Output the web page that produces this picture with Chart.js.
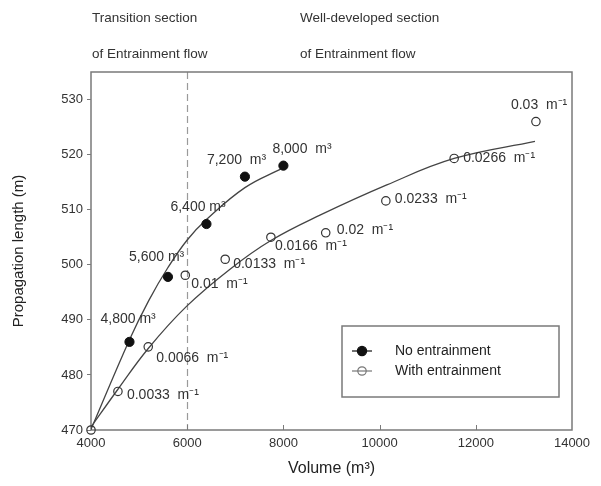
<!DOCTYPE html>
<html>
<head>
<meta charset="utf-8">
<script src="https://cdn.jsdelivr.net/npm/chart.js@4.4.1/dist/chart.umd.min.js"></script>
<style>
    html, body { margin: 0; padding: 0; background: #fff; }
    #wrap { width: 601px; height: 486px; }
</style>
</head>
<body>
<div id="wrap"><canvas id="chart" width="601" height="486"></canvas></div>
<script>
// Measured points, no entrainment
var noEntrainVolume = [4800, 5600, 6400, 7200, 8000];
var noEntrainLength = [486.0, 497.8, 507.4, 516.0, 518.0];
var noEntrainLabels = ['4,800 m³', '5,600 m³', '6,400 m³', '7,200  m³', '8,000  m³'];

// Measured points, with entrainment
var withEntrainVolume = [4000, 4560, 5190, 5960, 6790, 7740, 8880, 10130, 11550, 13250];
var withEntrainLength = [470.0, 477.0, 485.1, 498.1, 501.0, 505.0, 505.8, 511.6, 519.3, 526.0];
var withEntrainLabels = ['', '0.0033  m⁻¹', '0.0066  m⁻¹', '0.01  m⁻¹', '0.0133  m⁻¹',
    '0.0166  m⁻¹', '0.02  m⁻¹', '0.0233  m⁻¹', '0.0266  m⁻¹', '0.03  m⁻¹'];

// Fitted trend lines
var noEntrainFitVolume = [3980, 4800, 5200, 5600, 6000, 6400, 7200, 7970];
var noEntrainFitLength = [469.7, 486.4, 493.5, 499.5, 504.5, 508.2, 514.0, 517.5];
var withEntrainFitVolume = [3980, 4560, 5190, 5980, 6890, 7740, 8760, 10150, 11550, 13230];
var withEntrainFitLength = [470.3, 477.4, 484.8, 492.4, 499.2, 504.4, 509.0, 514.5, 519.3, 522.4];

// Axes
var xTicks = [4000, 6000, 8000, 10000, 12000, 14000];
var yTicks = [470, 480, 490, 500, 510, 520, 530];
var sectionBoundary = 6000;
var sectionTitles = [
    ['Transition section', 'of Entrainment flow'],
    ['Well-developed section', 'of Entrainment flow']
];

// Label placement relative to each point (px): [dx, dy]
var noEntrainLabelOffsets = [[-29, -23], [-39, -20], [-36, -17], [-38, -17], [-11, -16]];
var withEntrainLabelOffsets = [[0, 0], [9, 4], [8, 11], [6, 9], [8, 5], [4, 9], [11, -3], [9, -2], [9, 0], [-25, -16]];

function toPoints(xs, ys) {
    return xs.map(function(x, i) { return { x: x, y: ys[i] }; });
}

var AXIS_COLOR = '#7a7a7a';
var TEXT_COLOR = '#333';

/**
 * Frame, inward x ticks, section divider and header text
 */
var framePlugin = {
    id: 'frame',
    beforeDatasetsDraw: function(chart) {
        var ctx = chart.ctx;
        var area = chart.chartArea;
        var xScale = chart.scales.x;

        ctx.save();

        // dashed boundary between sections
        var bx = Math.round(xScale.getPixelForValue(sectionBoundary)) + 0.5;
        ctx.strokeStyle = '#9a9a9a';
        ctx.lineWidth = 1.2;
        ctx.setLineDash([7, 4]);
        ctx.beginPath();
        ctx.moveTo(bx, area.top);
        ctx.lineTo(bx, area.bottom);
        ctx.stroke();
        ctx.setLineDash([]);

        // plot frame
        ctx.strokeStyle = AXIS_COLOR;
        ctx.lineWidth = 1.5;
        ctx.strokeRect(area.left, area.top, area.right - area.left, area.bottom - area.top);

        // x ticks point into the plot
        ctx.lineWidth = 1;
        xTicks.slice(1, -1).forEach(function(v) {
            var px = Math.round(xScale.getPixelForValue(v)) + 0.5;
            ctx.beginPath();
            ctx.moveTo(px, area.bottom);
            ctx.lineTo(px, area.bottom - 5);
            ctx.stroke();
        });
        ctx.restore();
    },
    afterDraw: function(chart) {
        var ctx = chart.ctx;

        // section headers above the plot
        ctx.save();
        ctx.fillStyle = TEXT_COLOR;
        ctx.font = '13.5px "Liberation Sans", Arial, sans-serif';
        ctx.textAlign = 'left';
        ctx.textBaseline = 'middle';
        var headerX = [92, 300];
        sectionTitles.forEach(function(lines, i) {
            ctx.fillText(lines[0], headerX[i], 18);
            ctx.fillText(lines[1], headerX[i], 54);
        });
        ctx.restore();
    }
};

/**
 * Text next to the measured points
 */
var pointLabelPlugin = {
    id: 'pointLabels',
    afterDatasetsDraw: function(chart) {
        var ctx = chart.ctx;
        ctx.save();
        ctx.fillStyle = TEXT_COLOR;
        ctx.font = '14px "Liberation Sans", Arial, sans-serif';
        ctx.textAlign = 'left';
        ctx.textBaseline = 'middle';
        chart.data.datasets.forEach(function(ds, di) {
            if (!ds.pointLabels) {
                return;
            }
            var meta = chart.getDatasetMeta(di);
            meta.data.forEach(function(el, i) {
                var text = ds.pointLabels[i];
                if (!text) {
                    return;
                }
                var off = ds.labelOffsets[i];
                ctx.fillText(text, el.x + off[0], el.y + off[1]);
            });
        });
        ctx.restore();
    }
};

/**
 * Boxed legend inside the plot
 */
var boxLegendPlugin = {
    id: 'boxLegend',
    afterDraw: function(chart) {
        var ctx = chart.ctx;
        var box = { x: 342, y: 326, w: 217, h: 71 };
        var entries = chart.data.datasets.filter(function(ds) { return ds.inLegend; });

        ctx.save();
        ctx.fillStyle = '#fff';
        ctx.fillRect(box.x, box.y, box.w, box.h);
        ctx.strokeStyle = AXIS_COLOR;
        ctx.lineWidth = 1.5;
        ctx.strokeRect(box.x, box.y, box.w, box.h);

        entries.forEach(function(ds, i) {
            var cy = box.y + 25 + i * 20;
            var cx = box.x + 20;
            ctx.strokeStyle = ds.legendLineColor;
            ctx.lineWidth = 1.2;
            ctx.beginPath();
            ctx.moveTo(cx - 10, cy);
            ctx.lineTo(cx + 10, cy);
            ctx.stroke();

            ctx.beginPath();
            ctx.arc(cx, cy, ds.pointRadius, 0, Math.PI * 2);
            if (ds.backgroundColor !== 'transparent') {
                ctx.fillStyle = ds.backgroundColor;
                ctx.fill();
            }
            ctx.strokeStyle = ds.legendLineColor;
            ctx.stroke();

            ctx.fillStyle = '#222';
            ctx.font = '14px "Liberation Sans", Arial, sans-serif';
            ctx.textAlign = 'left';
            ctx.textBaseline = 'middle';
            ctx.fillText(ds.label, box.x + 53, cy);
        });
        ctx.restore();
    }
};

var fitLineStyle = {
    type: 'line',
    borderColor: '#444',
    borderWidth: 1.3,
    pointRadius: 0,
    fill: false,
    tension: 0.4,
    order: 2
};

new Chart(document.getElementById('chart'), {
    type: 'scatter',
    data: {
        datasets: [
            Object.assign({ label: 'No entrainment fit', data: toPoints(noEntrainFitVolume, noEntrainFitLength) }, fitLineStyle),
            Object.assign({ label: 'With entrainment fit', data: toPoints(withEntrainFitVolume, withEntrainFitLength) }, fitLineStyle),
            {
                label: 'No entrainment',
                data: toPoints(noEntrainVolume, noEntrainLength),
                pointRadius: 4.6,
                backgroundColor: '#111',
                borderColor: '#111',
                borderWidth: 1,
                pointLabels: noEntrainLabels,
                labelOffsets: noEntrainLabelOffsets,
                inLegend: true,
                legendLineColor: '#111',
                clip: false,
                order: 0
            },
            {
                label: 'With entrainment',
                data: toPoints(withEntrainVolume, withEntrainLength),
                pointRadius: 4.2,
                backgroundColor: 'transparent',
                borderColor: '#333',
                borderWidth: 1.2,
                pointLabels: withEntrainLabels,
                labelOffsets: withEntrainLabelOffsets,
                inLegend: true,
                legendLineColor: '#777',
                clip: false,
                order: 0
            }
        ]
    },
    options: {
        responsive: false,
        animation: false,
        events: [],
        layout: { padding: { top: 72, right: 29, bottom: 0, left: 0 } },
        plugins: {
            legend: { display: false },
            tooltip: { enabled: false }
        },
        scales: {
            x: {
                type: 'linear',
                min: 4000,
                max: 14000,
                afterBuildTicks: function(scale) {
                    scale.ticks = xTicks.map(function(v) { return { value: v }; });
                },
                afterFit: function(scale) { scale.height = 56; },
                grid: { display: false, drawTicks: false },
                border: { display: false },
                ticks: {
                    padding: 6,
                    color: TEXT_COLOR,
                    font: { family: '"Liberation Sans", Arial, sans-serif', size: 13 },
                    maxRotation: 0,
                    callback: function(v) { return String(v); }
                },
                title: {
                    display: true,
                    text: 'Volume (m³)',
                    color: '#222',
                    font: { family: '"Liberation Sans", Arial, sans-serif', size: 16 },
                    padding: { top: 0, bottom: 8 }
                }
            },
            y: {
                type: 'linear',
                min: 470,
                max: 535,
                afterBuildTicks: function(scale) {
                    scale.ticks = yTicks.map(function(v) { return { value: v }; });
                },
                afterFit: function(scale) { scale.width = 91; },
                grid: {
                    drawOnChartArea: false,
                    drawTicks: true,
                    tickLength: 4,
                    color: AXIS_COLOR
                },
                border: { display: false },
                ticks: {
                    padding: 4,
                    color: TEXT_COLOR,
                    font: { family: '"Liberation Sans", Arial, sans-serif', size: 13 },
                    callback: function(v) { return String(v); }
                },
                title: {
                    display: true,
                    text: 'Propagation length (m)',
                    color: '#222',
                    font: { family: '"Liberation Sans", Arial, sans-serif', size: 15 },
                    padding: { top: 10, bottom: 0 }
                }
            }
        }
    },
    plugins: [framePlugin, pointLabelPlugin, boxLegendPlugin]
});
</script>
</body>
</html>
